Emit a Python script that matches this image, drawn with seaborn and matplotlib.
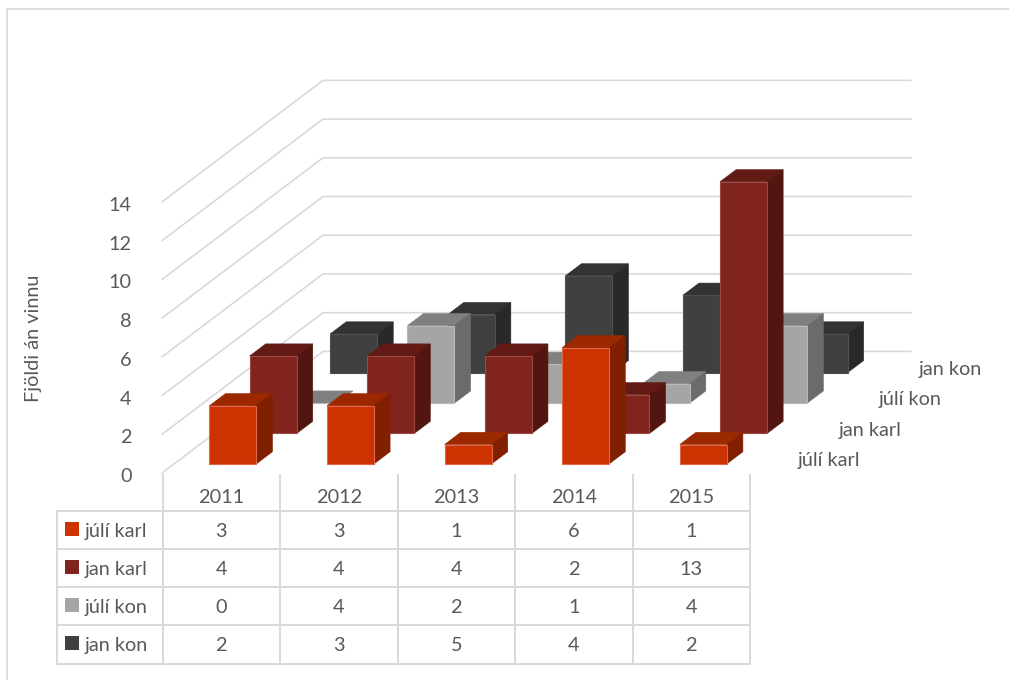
import matplotlib
matplotlib.use("Agg")
import matplotlib.pyplot as plt
from matplotlib.patches import Polygon, Rectangle
from matplotlib.transforms import ScaledTranslation
import pandas as pd
import seaborn as sns

# ---- data ----
years = ["2011", "2012", "2013", "2014", "2015"]
series = ["júlí karl", "jan karl", "júlí kon", "jan kon"]
juli_karl = [3, 3, 1, 6, 1]
jan_karl = [4, 4, 4, 2, 13]
juli_kon = [0, 4, 2, 1, 4]
jan_kon = [2, 3, 5, 4, 2]
values = [juli_karl, jan_karl, juli_kon, jan_kon]
y_axis_label = "Fjöldi án vinnu"

# ---- styles ----
front = ["#CC3300", "#82241E", "#A5A5A5", "#404040"]
top = ["#9C2800", "#641A14", "#808080", "#333333"]
side = ["#802000", "#52150F", "#6B6B6B", "#292929"]
edge = ["#E2674A", "#9A4B45", "#B8B8B8", "#505050"]
TEXT = "#595959"
GRID = "#D9D9D9"
FS = 14.3

sns.set_theme(style="white")
plt.rcParams["font.family"] = ["Lato", "DejaVu Sans"]

W, H = 1009, 680
fig = plt.figure(figsize=(W / 100, H / 100), dpi=100, facecolor="white")

# ---- layout (pixels) ----
X0, Y0 = 162.0, 473.0      # front-left floor corner
CAT_W, UNIT_H = 117.6, 19.36
STEP_X, STEP_Y = 40.25, 30.4
N_CAT, YMAX = len(years), 14
BAR_W = 0.4


def plane_axes(depth, zorder):
    ax = fig.add_axes([(X0 + depth * STEP_X) / W,
                       (H - Y0 + depth * STEP_Y) / H,
                       CAT_W * N_CAT / W, UNIT_H * YMAX / H])
    ax.set_zorder(zorder)
    ax.patch.set_visible(False)
    ax.set_xlim(-0.5, N_CAT - 0.5)
    ax.set_ylim(0, YMAX)
    return ax


# ---- chrome: frame, table ----
chrome = fig.add_axes([0, 0, 1, 1], zorder=0)
chrome.set_xlim(0, W)
chrome.set_ylim(H, 0)
chrome.axis("off")
chrome.plot([W, 6.5, 6.5], [8.5, 8.5, H], color=GRID, lw=1.3, clip_on=False)

T_L, T_C, T_R = 57.0, 162.5, 750.0
T_TOP, T_BOT, HEAD_TOP_LINE = 481.0, 663.5, 474.0
ROW_H = 38.2
HEAD_H = T_BOT - T_TOP - 4 * ROW_H

cell_text = [[""] + years] + [[s] + [str(v) for v in vals] for s, vals in zip(series, values)]
tab = chrome.table(cellText=cell_text,
                   colWidths=[(T_C - T_L) / W] + [(T_R - T_C) / N_CAT / W] * N_CAT,
                   cellLoc="center",
                   bbox=[T_L / W, 1 - T_BOT / H, (T_R - T_L) / W, (T_BOT - T_TOP) / H])
tab.auto_set_font_size(False)
tab.set_fontsize(FS)
for (r, c), cell in tab.get_celld().items():
    cell.set_height(HEAD_H if r == 0 else ROW_H)
    cell.set_edgecolor(GRID)
    cell.set_linewidth(1.4)
    cell.set_facecolor("none")
    t = cell.get_text()
    t.set_color(TEXT)
    t.set_va("center_baseline")
    if r == 0:
        cell.visible_edges = "" if c == 0 else "LR"
    if c == 0 and r > 0:
        cell.PAD = 0.262
        t.set_ha("left")
chrome.vlines([T_C + i * (T_R - T_C) / N_CAT for i in range(N_CAT + 1)],
              HEAD_TOP_LINE, T_TOP + 0.5, color=GRID, lw=1.4)

for i, s in enumerate(series):
    yc = T_BOT - (4 - i) * ROW_H + ROW_H / 2 - 1
    chrome.add_patch(Rectangle((65, yc - 7), 14, 14, facecolor=front[i], edgecolor="none"))
    chrome.text(798 + i * STEP_X, 459 - i * STEP_Y, s, color=TEXT, fontsize=FS,
                ha="left", va="center_baseline")

chrome.text(33, 338, y_axis_label, rotation=90, color=TEXT, fontsize=FS,
            ha="center", va="center")

# ---- walls ----
wall = plane_axes(0, 1)
sx = 4 * STEP_X / CAT_W
sy = 4 * STEP_Y / UNIT_H
ticks = list(range(0, YMAX + 1, 2))
for v in ticks:
    wall.plot([-0.5, -0.5 + sx, N_CAT - 0.5 + sx], [v, v + sy, v + sy],
              color=GRID, lw=1.2, clip_on=False, solid_joinstyle="miter")
wall.set_xticks([])
wall.set_yticks(ticks)
wall.set_yticklabels([str(v) for v in ticks], color=TEXT, fontsize=FS)
wall.tick_params(axis="y", length=0, pad=22)
for lab in wall.get_yticklabels():
    lab.set_transform(lab.get_transform() + ScaledTranslation(0, -2 / 100, fig.dpi_scale_trans))
sns.despine(ax=wall, left=True, bottom=True)

# ---- bars, back row first ----
DEPTH_FRAC = 0.4
dx = DEPTH_FRAC * STEP_X / CAT_W
dy = DEPTH_FRAC * STEP_Y / UNIT_H
for i in reversed(range(len(series))):
    ax = plane_axes(i + 0.3, 10 - i)
    df = pd.DataFrame({"year": years, "value": values[i]})
    sns.barplot(data=df, x="year", y="value", color=front[i], saturation=1,
                width=BAR_W, ax=ax, edgecolor=edge[i], linewidth=0.8,
                clip_on=False, zorder=3)
    for k, v in enumerate(values[i]):
        l, r = k - BAR_W / 2, k + BAR_W / 2
        ax.add_patch(Polygon([(l, v), (r, v), (r + dx, v + dy), (l + dx, v + dy)],
                             closed=True, facecolor=top[i], edgecolor=top[i],
                             linewidth=0.4, clip_on=False, zorder=2))
        if v > 0:
            ax.add_patch(Polygon([(r, 0), (r + dx, dy), (r + dx, v + dy), (r, v)],
                                 closed=True, facecolor=side[i], edgecolor=side[i],
                                 linewidth=0.4, clip_on=False, zorder=2))
    ax.set_xlim(-0.5, N_CAT - 0.5)
    ax.set_ylim(0, YMAX)
    ax.axis("off")

fig.savefig("out.png", dpi=100, facecolor="white")
